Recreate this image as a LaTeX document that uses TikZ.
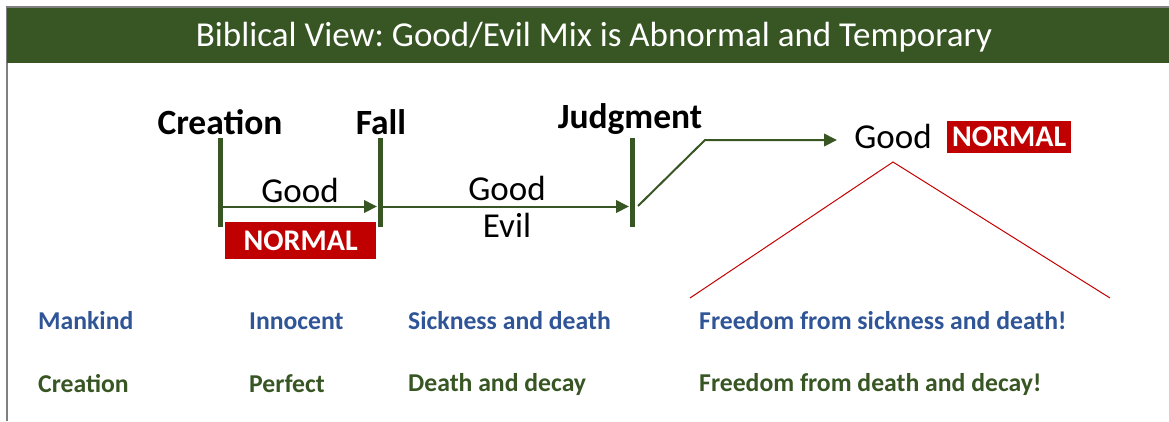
\documentclass[tikz,border=0pt]{standalone}
\usepackage{fontspec}
\setmainfont{Carlito}
\usetikzlibrary{arrows.meta}
\definecolor{hdrgreen}{HTML}{375623}
\definecolor{txtblue}{HTML}{2F5597}
\definecolor{nred}{HTML}{C00000}
\definecolor{framegray}{HTML}{808080}
\frenchspacing
\tikzset{
  lbl/.style={font=\fontsize{35.5}{38}\selectfont\bfseries, text=black, inner sep=0pt},
  plain/.style={font=\fontsize{35}{38}\selectfont, text=black, inner sep=0pt},
  normalbox/.style={fill=nred, text=white, font=\fontsize{30}{32}\selectfont\bfseries, inner sep=0pt, anchor=north west},
  bar/.style={draw=hdrgreen, line width=5pt},
  arr/.style={draw=hdrgreen, line width=2pt, -{Triangle[length=13pt,width=12.5pt]}},
  row/.style={font=\fontsize{25.7}{28}\selectfont\bfseries, inner sep=0pt, anchor=west},
}
\begin{document}
\begin{tikzpicture}[x=1pt,y=-1pt]
\useasboundingbox (0,0) rectangle (1169,421);
% frame
\draw[framegray, line width=1.5pt] (7,421) -- (7,7) -- (1169,7);
\fill[hdrgreen] (7,8) rectangle (1169,63);
\node[font=\fontsize{35}{38}\selectfont, text=white, inner sep=0pt] (title) at (594,37) {Biblical View: Good/Evil Mix is Abnormal and Temporary};

% labels
\node[lbl] (creation) at (220,122) {Creation};
\node[lbl] (fall) at (381,122) {Fall};
\node[lbl] (judgment) at (630,119) {Judgment};

% bars
\coordinate (ct) at (220,138); \coordinate (cb) at (220,227);
\coordinate (ft) at (380.5,138); \coordinate (fb) at (380.5,227);
\coordinate (jt) at (632,138); \coordinate (jb) at (632,227);
\draw[bar] (ct) -- (cb);
\draw[bar] (ft) -- (fb);
\draw[bar] (jt) -- (jb);

% arrows
\coordinate (a1s) at (222.5,206.5); \coordinate (a1e) at (377,206.5);
\coordinate (a2s) at (383,206.5); \coordinate (a2e) at (629,206.5);
\draw[arr] (a1s) -- (a1e);
\draw[arr] (a2s) -- (a2e);
\coordinate (a3s) at (638,206); \coordinate (a3m) at (705,140); \coordinate (a3e) at (837,140);
\draw[arr] (a3s) -- (a3m) -- (a3e);

% texts on timeline
\node[plain] (good1) at (300,190) {Good};
\node[normalbox, minimum width=151pt, minimum height=37pt] (norm1) at (225,222) {NORMAL};
\node[plain] (good2) at (507,188) {Good};
\node[plain] (evil) at (507,225) {Evil};
\node[plain] (good3) at (893,136) {Good};
\node[normalbox, minimum width=124pt, minimum height=32pt] (norm2) at (947,121) {NORMAL};

% red triangle
\coordinate (apex) at (893,162);
\coordinate (tl) at (690,298);
\coordinate (tr) at (1110,298);
\draw[nred!90!red, line width=1pt] (tl) -- (apex) -- (tr);

% rows
\node[row, text=txtblue] (m1) at (38,321) {Mankind};
\node[row, text=txtblue] (m2) at (249,321) {Innocent};
\node[row, text=txtblue] (m3) at (408,321) {Sickness and death};
\node[row, text=txtblue] (m4) at (699,321) {Freedom from sickness and death!};
\node[row, text=hdrgreen] (c1) at (38,384) {Creation};
\node[row, text=hdrgreen] (c2) at (249,384) {Perfect};
\node[row, text=hdrgreen] (c3) at (408,384) {Death and decay};
\node[row, text=hdrgreen] (c4) at (699,384) {Freedom from death and decay!};
\end{tikzpicture}
\end{document}
